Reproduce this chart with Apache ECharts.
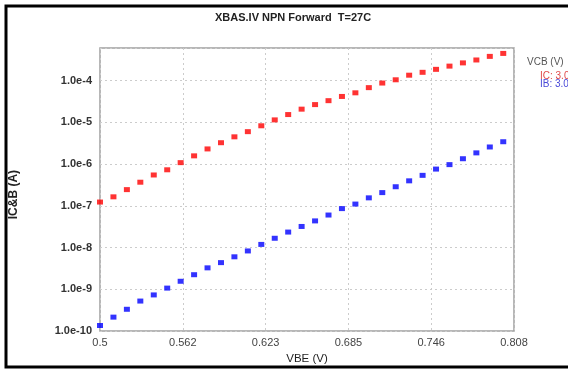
<!DOCTYPE html>
<html>
<head>
<meta charset="utf-8">
<script src="https://cdn.jsdelivr.net/npm/echarts@6/dist/echarts.min.js"></script>
<style>html,body{margin:0;padding:0;background:#fff}#c{width:568px;height:370px}</style>
</head>
<body>
<div id="c"></div>
<script>
const vbe = [0.50,0.51,0.52,0.53,0.54,0.55,0.56,0.57,0.58,0.59,0.60,0.61,0.62,0.63,0.64,0.65,0.66,0.67,0.68,0.69,0.70,0.71,0.72,0.73,0.74,0.75,0.76,0.77,0.78,0.79,0.80];
const ic = [1.23e-7,1.64e-7,2.44e-7,3.67e-7,5.47e-7,7.28e-7,1.08e-6,1.57e-6,2.30e-6,3.24e-6,4.48e-6,5.96e-6,8.24e-6,1.14e-5,1.53e-5,2.06e-5,2.65e-5,3.29e-5,4.15e-5,5.07e-5,6.75e-5,8.69e-5,1.04e-4,1.34e-4,1.57e-4,1.85e-4,2.21e-4,2.64e-4,3.10e-4,3.78e-4,4.45e-4];
const ib = [1.36e-10,2.16e-10,3.33e-10,5.24e-10,7.35e-10,1.07e-9,1.56e-9,2.24e-9,3.27e-9,4.36e-9,6.01e-9,8.30e-9,1.19e-8,1.67e-8,2.35e-8,3.20e-8,4.35e-8,6.01e-8,8.57e-8,1.10e-7,1.55e-7,2.07e-7,2.86e-7,3.96e-7,5.36e-7,7.57e-7,9.68e-7,1.34e-6,1.85e-6,2.56e-6,3.42e-6];
const xTicks = [0.5,0.5616,0.6232,0.6848,0.7464,0.808];
const seriesNames = ['IC: 3.0','IB: 3.0'];

const chart = echarts.init(document.getElementById('c'));
const font = 'Liberation Sans, Arial, sans-serif';
const fmtX = v => String(parseFloat(v.toFixed(3)));
chart.setOption({
  animation: false,
  backgroundColor: '#fff',
  textStyle: {fontFamily: font},
  title: [
    {text: 'XBAS.IV NPN Forward  T=27C', left: 210, top: 7,
     textStyle: {fontSize: 11, fontWeight: 'bold', color: '#222', fontFamily: font}},
    {text: 'VCB (V)', left: 522, top: 52,
     textStyle: {fontSize: 10, fontWeight: 'normal', color: '#555', fontFamily: font}}
  ],
  legend: {
    orient: 'vertical', left: 530, top: 66, itemGap: -2, itemWidth: 0, itemHeight: 0,
    icon: 'none', selectedMode: false,
    data: [
      {name: seriesNames[0], textStyle: {color: '#e04848'}},
      {name: seriesNames[1], textStyle: {color: '#4a4ad8'}}
    ],
    textStyle: {fontSize: 10, fontFamily: font}
  },
  graphic: [{
    type: 'rect', shape: {x: 6, y: 6, width: 640, height: 361},
    style: {fill: 'none', stroke: '#000', lineWidth: 3}, silent: true
  }],
  grid: {left: 100, top: 48, right: 54, bottom: 32, show: true, borderColor: '#a0a0a0', borderWidth: 1.5, backgroundColor: '#fff'},
  xAxis: {
    type: 'value', min: 0.5, max: 0.808,
    name: 'VBE (V)', nameLocation: 'middle', nameGap: 18,
    nameTextStyle: {fontSize: 11.5, color: '#222', fontFamily: font},
    axisLine: {show: false}, axisTick: {show: false, customValues: xTicks},
    axisLabel: {customValues: xTicks, formatter: fmtX, fontSize: 11, color: '#444', margin: 6, fontFamily: font},
    splitLine: {show: true, lineStyle: {color: '#cccccc', type: [2, 3], width: 1}}
  },
  yAxis: {
    type: 'log', logBase: 10, min: 1e-10, max: 6e-4,
    name: 'IC&B (A)', nameLocation: 'middle', nameGap: 80, nameRotate: 90,
    nameTextStyle: {fontSize: 12, fontWeight: 'bold', color: '#222', fontFamily: font, padding: [0, 10, 0, 0]},
    axisLine: {show: false}, axisTick: {show: false},
    axisLabel: {showMaxLabel: false, fontSize: 11, fontWeight: 'bold', color: '#333', margin: 8, fontFamily: font,
      formatter: v => '1.0e' + Math.round(Math.log10(v))},
    splitLine: {show: true, lineStyle: {color: '#cccccc', type: [2, 3], width: 1}},
    minorTick: {show: false}
  },
  series: [
    {name: seriesNames[0], type: 'scatter', symbol: 'rect', symbolSize: [6, 5],
     itemStyle: {color: '#ff0000'}, data: vbe.map((x, i) => [x, ic[i]])},
    {name: seriesNames[1], type: 'scatter', symbol: 'rect', symbolSize: [6, 5],
     itemStyle: {color: '#0000ff'}, data: vbe.map((x, i) => [x, ib[i]])}
  ]
});
</script>
</body>
</html>
